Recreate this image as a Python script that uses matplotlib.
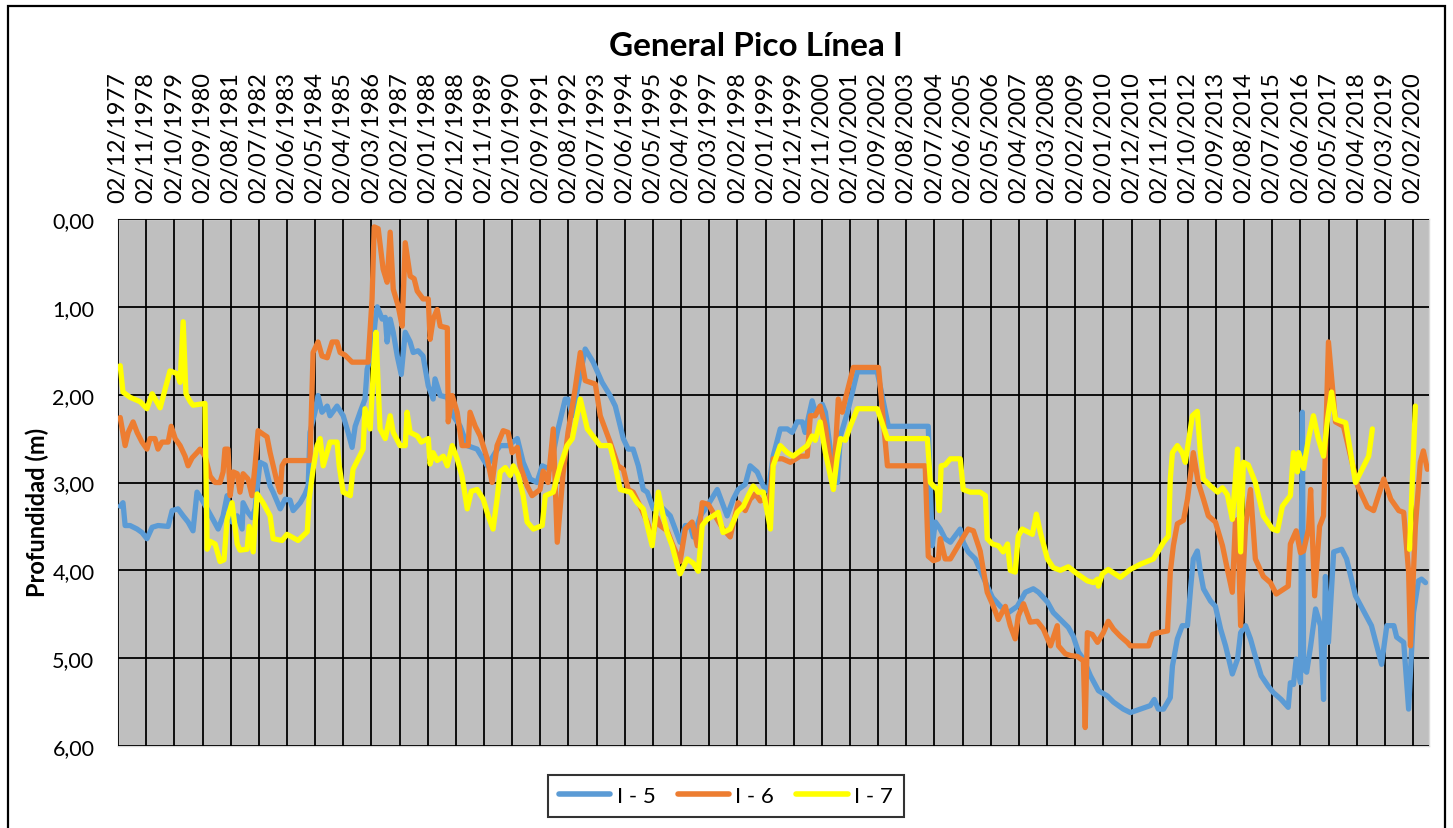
import numpy as np
import pandas as pd
import matplotlib
matplotlib.use("Agg")
import matplotlib.pyplot as plt
import matplotlib.dates as mdates
from matplotlib.patches import Rectangle
from matplotlib.ticker import FuncFormatter

plt.rcParams['font.family'] = ['Lato', 'DejaVu Sans']

# ---- data (decimal year, depth in m) ----
i5_years = [1977.99, 1978.08, 1978.15, 1978.31, 1978.54, 1978.70, 1978.86, 1979.03, 1979.22, 1979.55,
            1979.68, 1979.87, 1980.04, 1980.20, 1980.36, 1980.49, 1980.66, 1980.82, 1981.01, 1981.18,
            1981.34, 1981.47, 1981.63, 1981.80, 1981.96, 1981.99, 1982.15, 1982.28, 1982.38, 1982.54,
            1982.71, 1982.87, 1982.97, 1983.20, 1983.36, 1983.52, 1983.62, 1983.85, 1984.01, 1984.11,
            1984.17, 1984.33, 1984.43, 1984.56, 1984.73, 1984.82, 1985.05, 1985.25, 1985.41, 1985.54,
            1985.64, 1985.80, 1985.96, 1986.03, 1986.19, 1986.29, 1986.36, 1986.52, 1986.62, 1986.68,
            1986.78, 1986.88, 1987.01, 1987.14, 1987.27, 1987.43, 1987.53, 1987.69, 1987.85, 1988.02,
            1988.18, 1988.24, 1988.41, 1988.64, 1988.83, 1989.06, 1989.29, 1989.61, 1989.94, 1990.20,
            1990.36, 1990.62, 1990.92, 1991.11, 1991.34, 1991.56, 1991.73, 1991.99, 1992.22, 1992.48,
            1992.57, 1992.71, 1993.13, 1993.39, 1993.68, 1993.94, 1994.11, 1994.37, 1994.53, 1994.69,
            1994.86, 1995.02, 1995.15, 1995.35, 1995.51, 1995.67, 1995.90, 1996.06, 1996.22, 1996.39,
            1996.55, 1996.65, 1996.88, 1997.10, 1997.43, 1997.59, 1997.75, 1997.95, 1998.11, 1998.34,
            1998.50, 1998.73, 1998.93, 1999.09, 1999.25, 1999.48, 1999.71, 1999.87, 2000.03, 2000.20,
            2000.29, 2000.52, 2000.62, 2000.85, 2000.95, 2001.11, 2001.34, 2001.44, 2001.67, 2001.99,
            2002.64, 2003.00, 2004.30, 2004.43, 2004.53, 2004.69, 2004.85, 2005.02, 2005.34, 2005.44,
            2005.60, 2005.83, 2006.22, 2006.39, 2006.65, 2006.91, 2007.20, 2007.46, 2007.72, 2007.89,
            2008.18, 2008.37, 2008.60, 2008.86, 2009.02, 2009.19, 2009.35, 2009.58, 2009.84, 2010.13,
            2010.33, 2010.65, 2010.88, 2011.21, 2011.53, 2011.66, 2011.79, 2011.96, 2012.18, 2012.25,
            2012.41, 2012.57, 2012.74, 2012.84, 2012.93, 2013.06, 2013.16, 2013.26, 2013.49, 2013.65,
            2013.82, 2013.98, 2014.20, 2014.37, 2014.47, 2014.63, 2014.79, 2014.95, 2015.14, 2015.37,
            2015.53, 2015.79, 2016.02, 2016.09, 2016.19, 2016.28, 2016.42, 2016.45, 2016.48, 2016.52,
            2016.62, 2016.75, 2016.91, 2017.07, 2017.17, 2017.23, 2017.33, 2017.50, 2017.76, 2017.92,
            2018.21, 2018.47, 2018.73, 2019.06, 2019.23, 2019.46, 2019.55, 2019.78, 2019.94, 2020.10,
            2020.26, 2020.36, 2020.49]
i5_depth = [3.27, 3.23, 3.49, 3.49, 3.53, 3.57, 3.64, 3.51, 3.49, 3.50,
            3.32, 3.30, 3.38, 3.45, 3.55, 3.11, 3.20, 3.30, 3.42, 3.53,
            3.38, 3.15, 3.45, 3.38, 3.53, 3.23, 3.34, 3.40, 3.30, 2.77,
            2.80, 3.04, 3.11, 3.30, 3.19, 3.20, 3.32, 3.23, 3.13, 3.04,
            2.43, 2.20, 2.01, 2.20, 2.13, 2.24, 2.13, 2.24, 2.43, 2.60,
            2.36, 2.20, 2.05, 1.71, 1.52, 1.17, 1.00, 1.14, 1.12, 1.40,
            1.14, 1.29, 1.56, 1.77, 1.29, 1.40, 1.52, 1.50, 1.56, 1.90,
            2.05, 1.82, 2.01, 2.03, 2.24, 2.36, 2.58, 2.62, 2.81, 2.66,
            2.58, 2.58, 2.50, 2.77, 2.96, 3.00, 2.81, 2.85, 2.43, 2.05,
            2.05, 2.24, 1.48, 1.63, 1.86, 2.01, 2.13, 2.50, 2.62, 2.62,
            2.81, 3.08, 3.11, 3.30, 3.25, 3.30, 3.38, 3.53, 3.68, 3.49,
            3.49, 3.62, 3.38, 3.27, 3.08, 3.23, 3.38, 3.19, 3.08, 3.02,
            2.81, 2.88, 3.04, 3.10, 2.70, 2.39, 2.39, 2.43, 2.31, 2.31,
            2.43, 2.07, 2.20, 2.11, 2.20, 2.62, 3.00, 2.47, 2.20, 1.74,
            1.74, 2.36, 2.36, 3.72, 3.45, 3.53, 3.64, 3.68, 3.53, 3.68,
            3.79, 3.87, 4.18, 4.31, 4.41, 4.48, 4.41, 4.25, 4.21, 4.25,
            4.36, 4.48, 4.56, 4.65, 4.75, 4.93, 5.01, 5.20, 5.37, 5.43,
            5.50, 5.58, 5.62, 5.58, 5.54, 5.47, 5.58, 5.58, 5.45, 5.09,
            4.78, 4.63, 4.63, 4.21, 3.87, 3.78, 4.02, 4.21, 4.35, 4.41,
            4.67, 4.86, 5.18, 5.01, 4.71, 4.63, 4.78, 4.98, 5.20, 5.32,
            5.39, 5.47, 5.56, 5.28, 5.30, 5.01, 5.28, 3.53, 2.20, 5.12,
            5.16, 4.86, 4.44, 4.63, 5.47, 4.07, 4.82, 3.79, 3.76, 3.87,
            4.29, 4.46, 4.63, 5.07, 4.63, 4.63, 4.76, 4.82, 5.58, 4.48,
            4.12, 4.10, 4.14]

i6_years = [1977.99, 1978.15, 1978.25, 1978.41, 1978.54, 1978.70, 1978.86, 1978.96, 1979.12, 1979.22,
            1979.35, 1979.55, 1979.65, 1979.78, 1979.94, 1980.10, 1980.20, 1980.33, 1980.49, 1980.59,
            1980.75, 1980.92, 1981.08, 1981.24, 1981.34, 1981.40, 1981.50, 1981.57, 1981.67, 1981.80,
            1981.89, 1981.99, 1982.15, 1982.28, 1982.38, 1982.48, 1982.64, 1982.77, 1982.87, 1982.97,
            1983.10, 1983.20, 1983.26, 1983.36, 1984.17, 1984.27, 1984.43, 1984.56, 1984.73, 1984.89,
            1985.05, 1985.15, 1985.31, 1985.54, 1986.06, 1986.19, 1986.26, 1986.39, 1986.55, 1986.68,
            1986.78, 1986.88, 1987.04, 1987.17, 1987.27, 1987.43, 1987.56, 1987.66, 1987.85, 1988.02,
            1988.08, 1988.18, 1988.31, 1988.41, 1988.64, 1988.67, 1988.80, 1988.96, 1989.12, 1989.32,
            1989.38, 1989.55, 1989.71, 1989.94, 1990.10, 1990.26, 1990.46, 1990.62, 1990.75, 1990.92,
            1991.01, 1991.24, 1991.40, 1991.66, 1991.76, 1991.92, 1992.09, 1992.22, 1992.41, 1992.57,
            1992.80, 1992.97, 1993.13, 1993.46, 1993.62, 1993.94, 1994.20, 1994.37, 1994.53, 1994.69,
            1994.92, 1995.15, 1995.31, 1995.47, 1995.57, 1995.80, 1995.99, 1996.22, 1996.39, 1996.61,
            1996.78, 1996.94, 1997.14, 1997.36, 1997.62, 1997.85, 1998.01, 1998.11, 1998.34, 1998.50,
            1998.67, 1998.83, 1998.99, 1999.09, 1999.19, 1999.25, 1999.55, 1999.81, 2000.13, 2000.36,
            2000.46, 2000.62, 2000.78, 2000.95, 2001.21, 2001.37, 2001.50, 2001.60, 2001.86, 2002.68,
            2002.97, 2004.20, 2004.30, 2004.47, 2004.63, 2004.69, 2004.85, 2005.02, 2005.34, 2005.60,
            2005.77, 2005.99, 2006.09, 2006.22, 2006.42, 2006.58, 2006.81, 2006.97, 2007.13, 2007.23,
            2007.40, 2007.62, 2007.85, 2008.05, 2008.28, 2008.50, 2008.54, 2008.76, 2008.93, 2009.15,
            2009.35, 2009.41, 2009.48, 2009.64, 2009.81, 2010.00, 2010.16, 2010.33, 2010.55, 2010.78,
            2010.88, 2011.47, 2011.60, 2011.79, 2012.09, 2012.18, 2012.28, 2012.41, 2012.61, 2012.74,
            2012.93, 2013.09, 2013.26, 2013.42, 2013.65, 2013.88, 2014.04, 2014.20, 2014.30, 2014.38,
            2014.47, 2014.63, 2014.79, 2014.95, 2015.21, 2015.44, 2015.63, 2016.02, 2016.09, 2016.28,
            2016.42, 2016.52, 2016.68, 2016.75, 2016.88, 2017.04, 2017.17, 2017.33, 2017.56, 2017.82,
            2018.28, 2018.60, 2018.80, 2019.13, 2019.36, 2019.62, 2019.78, 2019.94, 2020.00, 2020.16,
            2020.32, 2020.42, 2020.55]
i6_depth = [2.26, 2.58, 2.43, 2.31, 2.43, 2.54, 2.62, 2.50, 2.50, 2.62,
            2.54, 2.54, 2.36, 2.50, 2.58, 2.70, 2.81, 2.72, 2.66, 2.62,
            2.70, 2.93, 3.00, 3.00, 2.88, 2.62, 2.62, 3.15, 2.88, 2.90,
            3.11, 2.90, 2.96, 3.15, 2.81, 2.41, 2.45, 2.48, 2.66, 2.81,
            3.00, 3.11, 2.81, 2.75, 2.75, 1.52, 1.40, 1.56, 1.58, 1.40,
            1.40, 1.52, 1.55, 1.63, 1.63, 0.91, 0.09, 0.11, 0.57, 0.72,
            0.15, 0.80, 0.99, 1.22, 0.27, 0.65, 0.68, 0.82, 0.91, 0.91,
            1.37, 1.14, 1.03, 1.22, 1.24, 2.31, 2.01, 2.20, 2.58, 2.58,
            2.20, 2.36, 2.47, 2.73, 3.00, 2.58, 2.41, 2.43, 2.66, 2.60,
            2.81, 3.04, 3.15, 3.08, 2.87, 3.00, 2.39, 3.68, 2.90, 2.43,
            1.94, 1.52, 1.84, 1.88, 2.24, 2.54, 2.81, 2.85, 3.08, 3.11,
            3.27, 3.45, 3.62, 3.40, 3.49, 3.55, 3.72, 3.90, 3.53, 3.45,
            3.72, 3.23, 3.25, 3.38, 3.53, 3.62, 3.38, 3.23, 3.32, 3.19,
            3.13, 3.21, 3.19, 3.34, 3.00, 2.73, 2.73, 2.77, 2.70, 2.70,
            2.24, 2.24, 2.13, 2.36, 3.04, 2.05, 2.20, 2.05, 1.69, 1.69,
            2.81, 2.81, 3.84, 3.89, 3.87, 3.64, 3.87, 3.87, 3.68, 3.53,
            3.55, 3.78, 3.99, 4.25, 4.41, 4.56, 4.41, 4.63, 4.78, 4.52,
            4.38, 4.59, 4.58, 4.67, 4.86, 4.63, 4.86, 4.95, 4.97, 4.98,
            5.03, 5.79, 4.71, 4.73, 4.82, 4.71, 4.58, 4.67, 4.75, 4.82,
            4.86, 4.86, 4.73, 4.71, 4.69, 4.02, 3.72, 3.47, 3.43, 3.19,
            2.66, 3.00, 3.19, 3.38, 3.45, 3.72, 3.99, 4.25, 3.45, 3.42,
            4.63, 3.49, 3.08, 3.87, 4.07, 4.14, 4.27, 4.18, 3.70, 3.55,
            3.80, 3.78, 3.53, 3.08, 4.29, 3.50, 3.38, 1.40, 2.31, 2.36,
            3.04, 3.28, 3.32, 2.96, 3.19, 3.32, 3.34, 4.02, 4.86, 3.50,
            2.77, 2.64, 2.85]

i7_years = [1977.99, 1978.08, 1978.31, 1978.64, 1978.86, 1979.03, 1979.29, 1979.61, 1979.84, 1979.94,
            1980.04, 1980.13, 1980.27, 1980.36, 1980.75, 1980.82, 1980.92, 1981.08, 1981.24, 1981.37,
            1981.47, 1981.63, 1981.80, 1981.89, 1982.12, 1982.19, 1982.32, 1982.45, 1982.64, 1982.87,
            1982.97, 1983.26, 1983.42, 1983.78, 1984.08, 1984.14, 1984.27, 1984.40, 1984.50, 1984.60,
            1984.82, 1985.05, 1985.12, 1985.25, 1985.48, 1985.57, 1985.90, 1985.96, 1986.13, 1986.23,
            1986.32, 1986.39, 1986.45, 1986.62, 1986.78, 1986.88, 1987.10, 1987.27, 1987.33, 1987.43,
            1987.66, 1987.79, 1988.02, 1988.08, 1988.18, 1988.31, 1988.51, 1988.64, 1988.80, 1988.96,
            1989.12, 1989.22, 1989.29, 1989.42, 1989.61, 1989.81, 1989.97, 1990.13, 1990.26, 1990.36,
            1990.53, 1990.69, 1990.79, 1990.95, 1991.11, 1991.24, 1991.44, 1991.73, 1991.83, 1992.09,
            1992.32, 1992.54, 1992.71, 1992.97, 1993.20, 1993.62, 1993.94, 1994.11, 1994.27, 1994.60,
            1994.82, 1995.02, 1995.15, 1995.31, 1995.41, 1995.51, 1995.67, 1995.80, 1995.96, 1996.13,
            1996.22, 1996.45, 1996.65, 1996.81, 1996.94, 1997.10, 1997.30, 1997.46, 1997.62, 1997.85,
            1998.08, 1998.28, 1998.44, 1998.60, 1998.76, 1998.93, 1999.06, 1999.16, 1999.25, 1999.48,
            1999.71, 1999.90, 2000.36, 2000.52, 2000.62, 2000.78, 2000.95, 2001.21, 2001.34, 2001.44,
            2001.60, 2001.76, 2001.99, 2002.64, 2002.97, 2004.27, 2004.37, 2004.47, 2004.59, 2004.66,
            2004.72, 2004.85, 2005.02, 2005.34, 2005.44, 2005.67, 2005.99, 2006.16, 2006.22, 2006.39,
            2006.58, 2006.74, 2006.88, 2006.97, 2007.13, 2007.23, 2007.36, 2007.69, 2007.82, 2007.95,
            2008.18, 2008.37, 2008.60, 2008.86, 2009.15, 2009.48, 2009.68, 2009.81, 2009.84, 2009.97,
            2010.16, 2010.55, 2010.88, 2011.21, 2011.63, 2011.79, 2011.96, 2012.12, 2012.18, 2012.25,
            2012.41, 2012.57, 2012.67, 2012.90, 2013.06, 2013.16, 2013.26, 2013.49, 2013.72, 2013.88,
            2014.04, 2014.20, 2014.30, 2014.37, 2014.47, 2014.56, 2014.72, 2014.95, 2015.21, 2015.51,
            2015.67, 2015.83, 2016.09, 2016.19, 2016.32, 2016.36, 2016.52, 2016.68, 2016.84, 2017.00,
            2017.17, 2017.30, 2017.43, 2017.56, 2017.89, 2018.21, 2018.64, 2018.76, 2019.40, 2019.97,
            2020.16]
i7_depth = [1.67, 1.97, 2.03, 2.08, 2.16, 1.99, 2.15, 1.73, 1.76, 1.86,
            1.17, 1.99, 2.08, 2.12, 2.10, 3.76, 3.67, 3.70, 3.90, 3.88,
            3.42, 3.23, 3.70, 3.77, 3.76, 3.50, 3.79, 3.13, 3.23, 3.38,
            3.64, 3.66, 3.59, 3.66, 3.56, 3.19, 2.85, 2.58, 2.50, 2.81,
            2.54, 2.54, 2.81, 3.11, 3.15, 2.85, 2.62, 2.16, 2.39, 1.74,
            1.29, 1.90, 2.39, 2.50, 2.24, 2.43, 2.58, 2.58, 2.20, 2.43,
            2.47, 2.54, 2.50, 2.79, 2.66, 2.75, 2.70, 2.81, 2.58, 2.73,
            2.93, 3.15, 3.30, 3.10, 3.08, 3.19, 3.38, 3.53, 3.19, 2.88,
            2.83, 2.92, 2.81, 2.92, 3.15, 3.45, 3.53, 3.49, 3.15, 3.11,
            2.81, 2.58, 2.50, 2.05, 2.39, 2.58, 2.58, 2.81, 3.08, 3.11,
            3.23, 3.30, 3.49, 3.72, 3.42, 3.11, 3.38, 3.57, 3.72, 3.95,
            4.04, 3.87, 3.92, 4.01, 3.49, 3.42, 3.38, 3.34, 3.57, 3.53,
            3.34, 3.27, 3.15, 3.04, 3.11, 3.11, 3.34, 3.53, 2.81, 2.58,
            2.66, 2.70, 2.58, 2.47, 2.52, 2.31, 2.66, 3.08, 2.70, 2.50,
            2.52, 2.36, 2.16, 2.16, 2.50, 2.50, 3.00, 3.04, 3.08, 3.32,
            2.81, 2.80, 2.73, 2.73, 3.08, 3.11, 3.11, 3.15, 3.64, 3.70,
            3.72, 3.79, 3.70, 4.00, 4.02, 3.61, 3.53, 3.59, 3.36, 3.57,
            3.87, 3.97, 4.00, 3.96, 4.04, 4.12, 4.14, 4.10, 4.18, 4.04,
            3.99, 4.08, 3.99, 3.93, 3.87, 3.78, 3.68, 3.61, 2.96, 2.66,
            2.58, 2.66, 2.77, 2.24, 2.19, 2.66, 2.96, 3.04, 3.11, 3.06,
            3.14, 3.42, 2.96, 2.62, 3.79, 2.77, 2.80, 3.00, 3.38, 3.53,
            3.55, 3.27, 3.15, 2.66, 2.88, 2.66, 2.84, 2.50, 2.24, 2.50,
            2.70, 2.28, 1.97, 2.28, 2.32, 3.00, 2.70, 2.39, np.nan, 3.76,
            2.13]

series = [("I - 5", i5_years, i5_depth, "#5B9BD5"),
          ("I - 6", i6_years, i6_depth, "#ED7D31"),
          ("I - 7", i7_years, i7_depth, "#FFFF00")]


def to_dates(years):
    y = np.asarray(years, dtype=float)
    secs = ((y - 1970.0) * 365.25 * 86400).astype("int64")
    return np.datetime64("1970-01-01T00:00:00") + secs.astype("timedelta64[s]")


tick_dates = [pd.Timestamp("1977-12-02") + pd.DateOffset(months=11 * i) for i in range(47)]

fig = plt.figure(figsize=(14.53, 8.29), dpi=100)
ax = fig.add_axes([118 / 1453, 1 - 747 / 829, (1429 - 118) / 1453, (747 - 220) / 829])
ax.set_facecolor("#BFBFBF")

for name, yrs, dep, col in series:
    ax.plot(to_dates(yrs), dep, color=col, lw=3.8, label=name,
            solid_joinstyle="round", solid_capstyle="round")

ax.set_xlim(pd.Timestamp("1977-12-02"), pd.Timestamp("2020-08-09"))
ax.set_ylim(6, 0)
ax.set_yticks(np.arange(0, 7, 1))
ax.yaxis.set_major_formatter(FuncFormatter(lambda v, p: f"{v:.2f}".replace(".", ",")))

ax.set_xticks(tick_dates)
ax.xaxis.set_major_formatter(mdates.DateFormatter("%d/%m/%Y"))
ax.xaxis.tick_top()
ax.tick_params(axis="x", rotation=90, labelsize=17, length=0, pad=12)
ax.tick_params(axis="y", labelsize=15.5, length=0, pad=17)
for lab in ax.get_xticklabels():
    lab.set_verticalalignment("bottom")

ax.grid(True, color="black", lw=1.3)
ax.set_axisbelow(False)
for ln in ax.get_lines():
    ln.set_zorder(3)
for s in ax.spines.values():
    s.set_color("#D9D9D9")
    s.set_linewidth(1)

fig.text(756 / 1453, 1 - 47 / 829, "General Pico Línea I", ha="center", va="center",
         fontsize=24, fontweight="bold")
fig.text(37 / 1453, 1 - 512 / 829, "Profundidad (m)", ha="center", va="center",
         rotation=90, fontsize=17, fontweight="bold")

leg = ax.legend(loc="center", bbox_to_anchor=(726 / 1453, 1 - 797 / 829),
                bbox_transform=fig.transFigure, ncol=3, fontsize=16, frameon=True,
                fancybox=False, edgecolor="black", handlelength=2.3, handletextpad=0.3,
                columnspacing=1.0, borderpad=0.5)
leg.get_frame().set_linewidth(1.5)
for h in leg.get_lines():
    h.set_linewidth(4)

fig.add_artist(Rectangle((8 / 1453, -0.02), (1445 - 8) / 1453, 1.02 - 7 / 829,
                         transform=fig.transFigure, fill=False, edgecolor="black", lw=1.6))

fig.savefig("out.png", dpi=100, facecolor="white")
